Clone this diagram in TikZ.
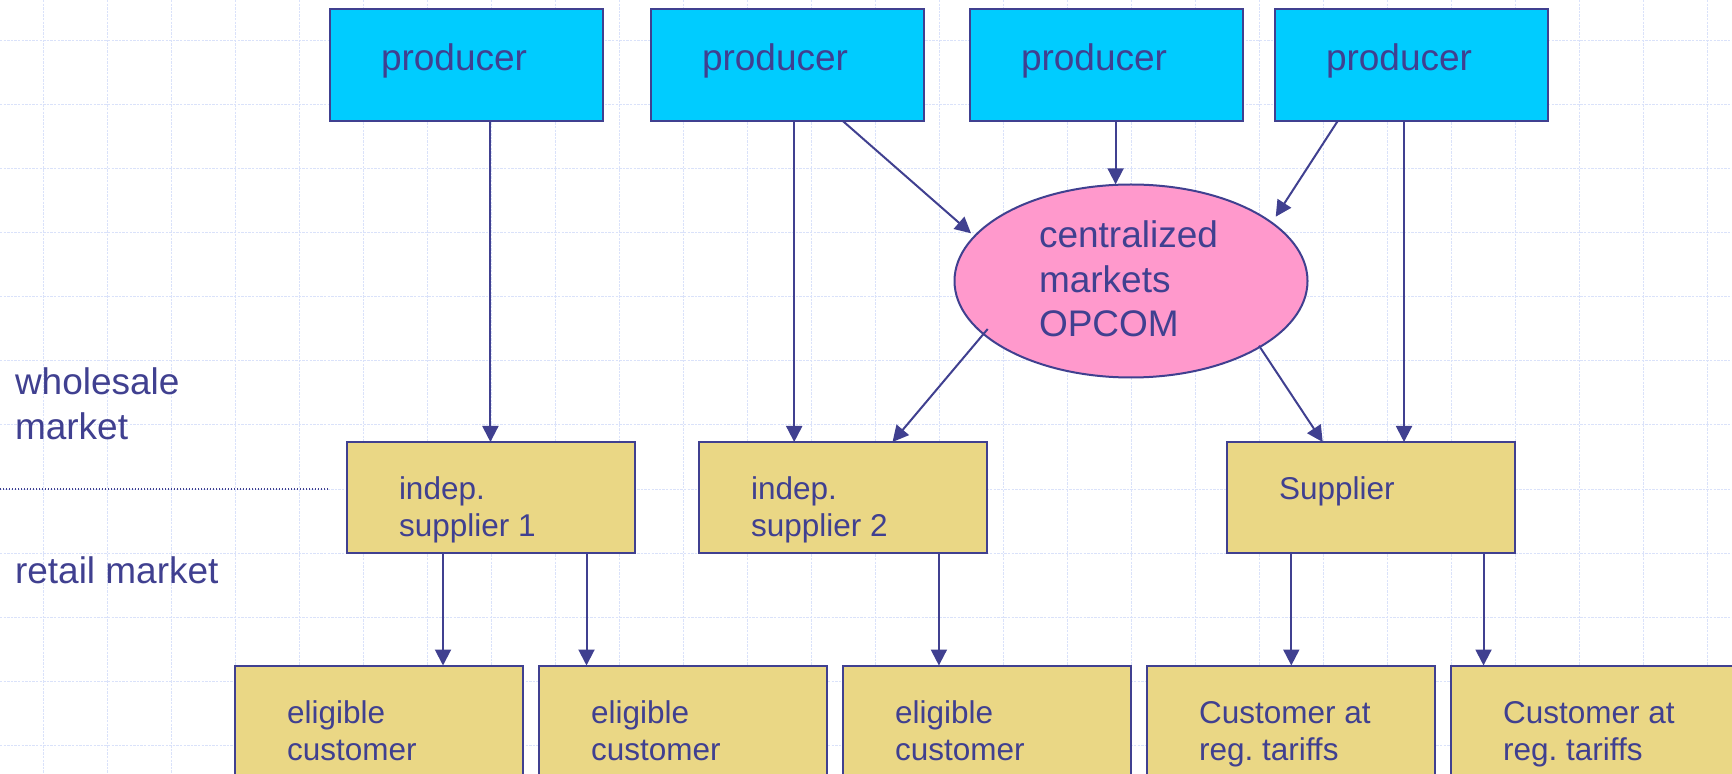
\documentclass[tikz,border=0pt]{standalone}
\usepackage{fontspec}
\setmainfont{Liberation Sans}
\frenchspacing
\usetikzlibrary{shapes.geometric,arrows.meta,calc}
\definecolor{ink}{RGB}{64,64,144}
\definecolor{prodfill}{RGB}{0,204,255}
\definecolor{mktfill}{RGB}{255,153,204}
\definecolor{supfill}{RGB}{234,215,133}
\definecolor{gridc}{RGB}{218,226,250}
\tikzset{
  box/.style={draw=ink, line width=1pt, rectangle, inner sep=0pt, outer sep=0pt, anchor=north west},
  prodbox/.style={box, fill=prodfill, minimum width=136.5pt, minimum height=56pt},
  supbox/.style={box, fill=supfill, minimum width=144pt, minimum height=55.5pt},
  custbox/.style={box, fill=supfill, minimum width=144pt, minimum height=70pt},
  mktell/.style={ellipse, draw=ink, line width=1pt, fill=mktfill, inner sep=0pt, outer sep=0pt, minimum width=176.5pt, minimum height=96.5pt},
  bigtxt/.style={text=ink, font=\fontsize{18.5pt}{22.3pt}\selectfont, inner sep=0pt, outer sep=0pt, anchor=base west, align=left},
  smalltxt/.style={text=ink, font=\fontsize{15.75pt}{18.5pt}\selectfont, inner sep=0pt, outer sep=0pt, anchor=base west, align=left},
  flow/.style={draw=ink, line width=1pt, -{Triangle[width=8pt,length=8pt]}},
  gridline/.style={draw=gridc, line width=0.5pt, dash pattern=on 1.2pt off 0.6pt},
  sepline/.style={draw=ink, line width=0.7pt, dash pattern=on 0.6pt off 0.9pt},
}
\begin{document}
\begin{tikzpicture}[x=0.5pt,y=-0.5pt]
  \useasboundingbox (0,0) rectangle (1732,774);
  \clip (0,0) rectangle (1732,774);
  \fill[white] (0,0) rectangle (1732,774);
  % background grid
  \foreach \gx in {43,107,...,1707} {\draw[gridline] (\gx,0) -- (\gx,774);}
  \foreach \gy in {41,105,...,745} {\draw[gridline] (0,\gy) -- (1732,\gy);}
  % separator
  \coordinate (sepL) at (0,489);
  \coordinate (sepR) at (328,489);
  \draw[sepline] (sepL) -- (sepR);
  % left labels (anchor = baseline of last line)
  \node[bigtxt] (lblwhole) at (15,439) {wholesale\\market};
  \node[bigtxt] (lblretail) at (15,583) {retail market};
  % producers
  \node[prodbox] (p1) at (330,9) {};
  \node[prodbox] (p2) at (651,9) {};
  \node[prodbox] (p3) at (970,9) {};
  \node[prodbox] (p4) at (1275,9) {};
  \node[bigtxt] (t1) at ($(p1.north west)+(51,62)$) {producer};
  \node[bigtxt] (t2) at ($(p2.north west)+(51,62)$) {producer};
  \node[bigtxt] (t3) at ($(p3.north west)+(51,62)$) {producer};
  \node[bigtxt] (t4) at ($(p4.north west)+(51,62)$) {producer};
  % centralized market
  \node[mktell] (opcom) at (1131,281) {};
  \node[bigtxt] (topcom) at (1039,336.7) {centralized\\markets\\OPCOM};
  % suppliers
  \node[supbox] (s1) at (347,442) {};
  \node[supbox] (s2) at (699,442) {};
  \node[supbox] (s3) at (1227,442) {};
  \node[smalltxt] (ts1) at ($(s1.north west)+(52,94.5)$) {indep.\\supplier 1};
  \node[smalltxt] (ts2) at ($(s2.north west)+(52,94.5)$) {indep.\\supplier 2};
  \node[smalltxt] (ts3) at ($(s3.north west)+(52,57)$) {Supplier};
  % customers
  \node[custbox] (c1) at (235,665.5) {};
  \node[custbox] (c2) at (539,665.5) {};
  \node[custbox] (c3) at (843,665.5) {};
  \node[custbox] (c4) at (1147,665.5) {};
  \node[custbox] (c5) at (1451,665.5) {};
  \node[smalltxt] (tc1) at ($(c1.north west)+(52,94.5)$) {eligible\\customer};
  \node[smalltxt] (tc2) at ($(c2.north west)+(52,94.5)$) {eligible\\customer};
  \node[smalltxt] (tc3) at ($(c3.north west)+(52,94.5)$) {eligible\\customer};
  \node[smalltxt] (tc4) at ($(c4.north west)+(52,94.5)$) {Customer at\\reg. tariffs};
  \node[smalltxt] (tc5) at ($(c5.north west)+(52,94.5)$) {Customer at\\reg. tariffs};
  % connectors
  \draw[flow] ($(p1.south west)+(160.4,0)$) -- ($(s1.north west)+(143.4,0)$);
  \draw[flow] ($(p2.south west)+(143.2,0)$) -- ($(s2.north west)+(95.2,0)$);
  \draw[flow] ($(p2.south west)+(191.8,0)$) -- ($(opcom.center)+(-160,-47.7)$);
  \draw[flow] ($(p3.south west)+(145.6,0)$) -- ($(opcom.center)+(-15.4,-96.7)$);
  \draw[flow] ($(p4.south west)+(62.7,0)$) -- ($(opcom.center)+(144.7,-64.3)$);
  \draw[flow] ($(p4.south west)+(129,0)$) -- ($(s3.north west)+(177,0)$);
  \draw[flow] ($(opcom.center)+(-143.3,48)$) -- ($(s2.north west)+(193.5,0)$);
  \draw[flow] ($(opcom.center)+(128,64.7)$) -- ($(s3.north west)+(95.7,0)$);
  \draw[flow] ($(s1.south west)+(96,0)$) -- ($(c1.north west)+(208,0)$);
  \draw[flow] ($(s1.south west)+(239.5,0)$) -- ($(c2.north west)+(47.5,0)$);
  \draw[flow] ($(s2.south west)+(239.9,0)$) -- ($(c3.north west)+(95.9,0)$);
  \draw[flow] ($(s3.south west)+(64.3,0)$) -- ($(c4.north west)+(144.3,0)$);
  \draw[flow] ($(s3.south west)+(256.5,0)$) -- ($(c5.north west)+(32.5,0)$);
\end{tikzpicture}
\end{document}
